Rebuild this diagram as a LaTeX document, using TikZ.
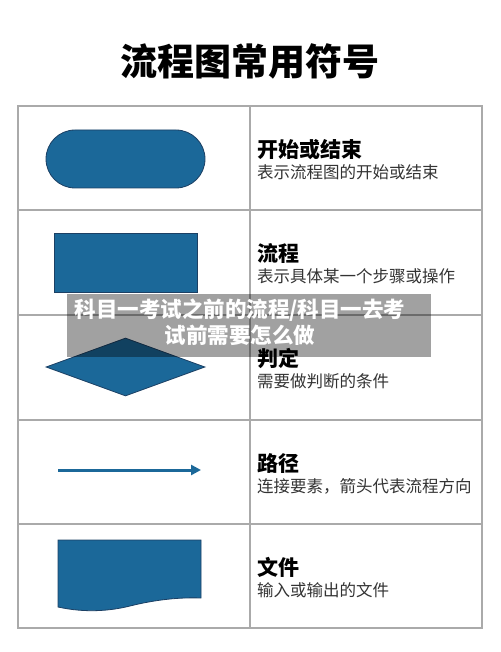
\documentclass[tikz,border=0pt]{standalone}
\usepackage{fontspec}
\setmainfont{Noto Sans CJK SC}
\usetikzlibrary{arrows.meta,shapes.geometric}

\definecolor{symblue}{RGB}{27,104,153}
\definecolor{symedge}{RGB}{28,64,100}
\definecolor{gridgray}{RGB}{170,170,170}

\tikzset{
    symbol/.style={fill=symblue, draw=symedge, line width=0.8pt, inner sep=0},
    grid line/.style={gridgray, line width=1.3pt},
    heading/.style={anchor=west, inner sep=0, font=\fontsize{21}{21}\selectfont\bfseries},
    subtext/.style={anchor=west, inner sep=0, text=black!80, font=\fontsize{16.5}{16.5}\selectfont},
}

\begin{document}
\begin{tikzpicture}[x=1pt,y=-1pt]
        \useasboundingbox (0,0) rectangle (500,652);
        \node (title) at (250,61) {\fontsize{37}{37}\selectfont\bfseries 流程图常用符号};
        % table
        \draw[grid line] (18,106) rectangle (482,628);
        \draw[grid line] (250,106) -- (250,628);
        \foreach \y in {210, 315, 420, 524} {
            \draw[grid line] (18,\y) -- (482,\y);
        }
        % symbols
        \node[symbol, rounded corners=29pt, minimum width=159pt, minimum height=58pt] (start) at (125.5,159) {};
        \node[symbol, minimum width=143pt, minimum height=59pt] (process) at (125.5,262.5) {};
        \node[symbol, diamond, minimum width=159pt, minimum height=58pt] (decision) at (125.5,367) {};
        \coordinate (route start) at (58,470);
        \coordinate (route end) at (201,470);
        \draw[symblue, line width=3pt, -{Triangle[length=10pt,width=10pt]}] (route start) -- (route end);
        \draw[symbol] (58,540) -- (201,540) -- (201,598)
            .. controls (175,597) and (150,601) .. (130,606)
            .. controls (110,611) and (85,613) .. (58,607) -- cycle;
        % texts
        \foreach \row/\top/\head/\desc in {start/106/开始或结束/表示流程图的开始或结束,
                process/210/流程/表示具体某一个步骤或操作,
                decision/315/判定/需要做判断的条件,
                route/420/路径/连接要素，箭头代表流程方向,
                file/524/文件/输入或输出的文件} {
            \node[heading] (\row-head) at (257,\top+43.5) {\head};
            \node[subtext] (\row-desc) at (257,\top+66) {\desc};
        }
        % banner
        \fill[black, opacity=0.37] (67,294) rectangle (431,357);
        \node[text=white, align=center, font=\fontsize{21.5}{26}\selectfont\bfseries] (banner) at (240,322)
            {科目一考试之前的流程/科目一去考\\试前需要怎么做};
\end{tikzpicture}
\end{document}
